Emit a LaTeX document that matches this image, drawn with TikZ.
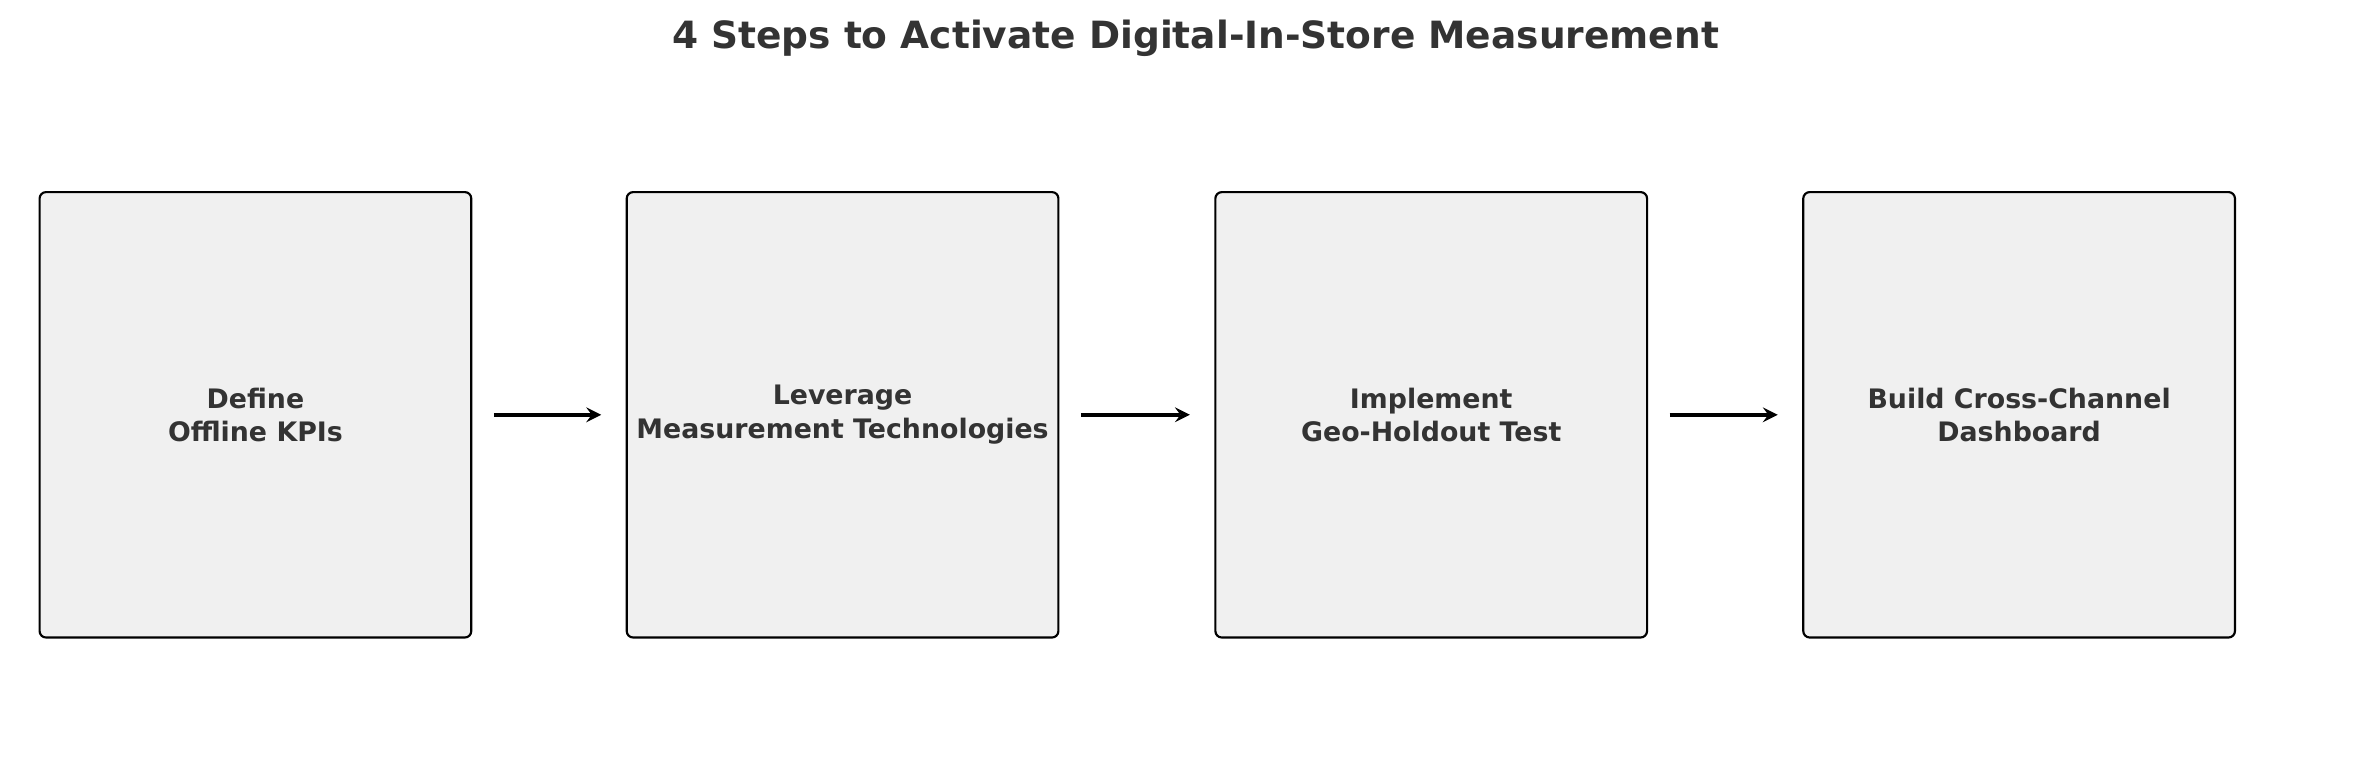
\documentclass[tikz,border=0pt]{standalone}
\usepackage{fontspec}
\setmainfont{DejaVu Sans}
\usepackage{xcolor}
\usetikzlibrary{arrows}
\usetikzlibrary{positioning}
\definecolor{boxfill}{HTML}{F0F0F0}
\definecolor{txtgray}{HTML}{333333}

\begin{document}
\begin{tikzpicture}[x=0.025cm,y=-0.025cm]
	
	\tikzstyle{stepbox} = [draw,line width=1pt,rounded corners=3pt,fill=boxfill,minimum width=7.075cm,minimum height=7.3cm,align=center,text=txtgray,font=\fontsize{12.5}{15.6}\selectfont\bfseries]
	\tikzstyle{sedge} = [-stealth,line width=2pt,shorten <=10pt,shorten >=11.4pt]
	
	\useasboundingbox (0,0) rectangle (1560,512);
	
	\node[text=txtgray,font=\fontsize{17.5}{21}\selectfont\bfseries] (title) at (784,25) {4 Steps to Activate Digital-In-Store Measurement};
	
	\node[stepbox] (s1) at (167.5,272) {Define\\Offline KPIs};
	\node[stepbox] (s2) at (552.5,272) {Leverage\\Measurement Technologies};
	\node[stepbox] (s3) at (938.5,272) {Implement\\Geo-Holdout Test};
	\node[stepbox] (s4) at (1324,272) {Build Cross-Channel\\Dashboard};
	
	\draw (s1) edge [sedge] (s2);
	\draw (s2) edge [sedge] (s3);
	\draw (s3) edge [sedge] (s4);

\end{tikzpicture}
\end{document}
